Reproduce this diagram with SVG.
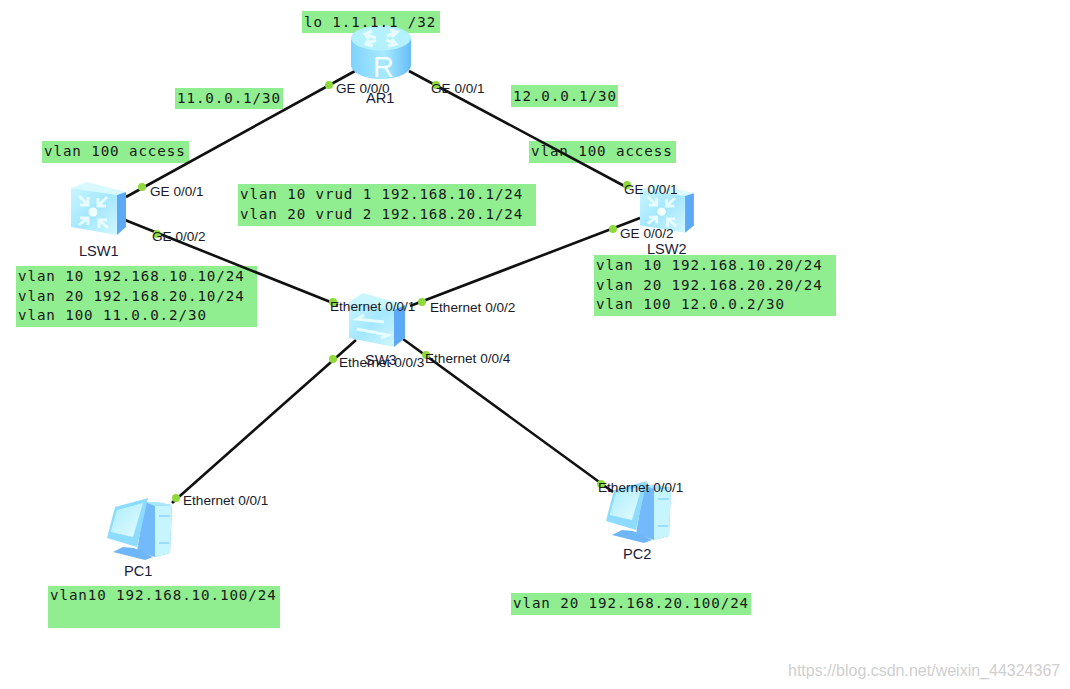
<svg xmlns="http://www.w3.org/2000/svg" width="1070" height="689" viewBox="0 0 1070 689">
<style>
.note{fill:#90ee90}
.m{font-family:"DejaVu Sans Mono","Liberation Mono",monospace;font-size:14.2px;letter-spacing:.9px;fill:#1a1a1a}
.p{font-family:"Liberation Sans",Arial,sans-serif;font-size:13.6px;fill:#1a1a2a}
.n{font-family:"Liberation Sans",Arial,sans-serif;font-size:14.6px;fill:#1a1a3a}
.w{font-family:"Liberation Sans",Arial,sans-serif;font-size:16px;fill:#cfcfcf}
.l{stroke:#111;stroke-width:2.6;fill:none}
.d{fill:#8fd93c}
.g{fill:none;stroke:#e6fcff;stroke-width:3}
</style>
<defs>
<linearGradient id="body" x1="0" y1="0" x2="1" y2="0"><stop offset="0" stop-color="#7fd2ff"/><stop offset=".55" stop-color="#a8eaff"/><stop offset="1" stop-color="#66bdf8"/></linearGradient>
<linearGradient id="face" x1="0" y1="0" x2="1" y2="1"><stop offset="0" stop-color="#c8f6ff"/><stop offset=".5" stop-color="#a4e7ff"/><stop offset="1" stop-color="#d2f7ff"/></linearGradient>
<linearGradient id="screen" x1="0" y1="0" x2="1" y2="1"><stop offset="0" stop-color="#a9ecff"/><stop offset="1" stop-color="#e6fcff"/></linearGradient>
<g id="l3">
<path d="M0 6 L16 0 L55 10 L46 13 Z" fill="#d8f9ff"/>
<path d="M0 6 L46 13 V53 L0 45 Z" fill="url(#face)"/>
<path d="M46 13 L55 10 V45 L46 53 Z" fill="#5da9f5"/>
<circle cx="22" cy="30" r="4.5" fill="#f2ffff"/>
<path class="g" d="M8 14 L17 23 M17 15 V23 H9 M36 15 L27 24 M27 16 V24 H35 M8 43 L17 36 M17 43 V36 H9 M37 46 L28 38 M28 46 V38 H36"/>
</g>
<g id="pc">
<path d="M38 5 L51 6 L65 8 L63 56 L48 60 L30 54 Z" fill="#72baf9"/>
<path d="M48 9 L65 8 L63 56 L48 60 Z" fill="#c6f4ff"/>
<path d="M38 5 L51 5 L65 8 L48 9 Z" fill="#a8e8ff"/>
<path d="M52 19 H63 M52 46 H62" stroke="#8dd4fb" stroke-width="1.4"/>
<path d="M16 50 L27 51 L46 60 L38 63 L6 55 Z" fill="#6fb6f8"/>
<path d="M8 10 L41 1 L30 50 L0 41 Z" fill="#8ddcff"/>
<path d="M10 13 L36 6 L26 40 L3.6 35 Z" fill="url(#screen)"/>
</g>
</defs>

<g id="notes">
<rect class="note" x="302" y="11" width="138" height="22"/>
<rect class="note" x="175" y="88" width="108" height="21"/>
<rect class="note" x="511" y="85" width="107" height="22"/>
<rect class="note" x="42" y="141" width="147" height="22"/>
<rect class="note" x="529" y="141" width="147" height="22"/>
<rect class="note" x="238" y="184" width="298" height="42"/>
<rect class="note" x="16" y="266" width="241" height="61"/>
<rect class="note" x="594" y="255" width="242" height="61"/>
<rect class="note" x="48" y="586" width="232" height="42"/>
<rect class="note" x="511" y="593" width="240" height="22"/>
</g>

<g id="connectors">
<path class="l" d="M126 197 L355 71"/>
<path class="l" d="M409 71 L628 188"/>
<path class="l" d="M125 220 L338 305"/>
<path class="l" d="M640 218 L410 306"/>
<path class="l" d="M356 340 L172 503"/>
<path class="l" d="M403 339 L613 492"/>
<circle class="d" cx="329" cy="85" r="4"/>
<circle class="d" cx="436" cy="85" r="4"/>
<circle class="d" cx="142" cy="187" r="4"/>
<circle class="d" cx="157" cy="234" r="4"/>
<circle class="d" cx="627" cy="185" r="4"/>
<circle class="d" cx="613" cy="229" r="4"/>
<circle class="d" cx="333" cy="302" r="4"/>
<circle class="d" cx="422" cy="302" r="4"/>
<circle class="d" cx="333" cy="359" r="4"/>
<circle class="d" cx="426" cy="355" r="4"/>
<circle class="d" cx="176" cy="498" r="4"/>
<circle class="d" cx="601" cy="484" r="4"/>
</g>

<g id="AR1">
<path d="M351 38 V65 C351 73 365 79 381 79 C397 79 411 73 411 65 V38 Z" fill="url(#body)"/>
<ellipse cx="381" cy="38" rx="30" ry="12.5" fill="#b4f1ff"/>
<path class="g" stroke-width="2.4" d="M365 34 L376 38 M372 31 L365 34 L369 39 M397 32 L387 36 M390 30 L397 32 L392 37 M366 44 L376 40 M369 39 L366 44 L373 46 M396 44 L386 40 M388 46 L396 44 L392 39"/>
<text x="383.500" y="76.500" text-anchor="middle" font-family="Liberation Sans,sans-serif" font-size="29" fill="#f4ffff">R</text>
<text class="n" x="366" y="103">AR1</text>
</g>
<g id="LSW1">
<use href="#l3" x="71" y="182"/>
<text class="n" x="79" y="256">LSW1</text>
</g>
<g id="LSW2">
<use href="#l3" transform="translate(640 184) scale(.98 .92)"/>
<text class="n" x="647" y="254">LSW2</text>
</g>
<g id="SW">
<path d="M349 302 L363 293 L405 305 L394 310 Z" fill="#c8f6ff"/>
<path d="M349 302 L394 310 V347 L349 338 Z" fill="url(#face)"/>
<path d="M394 310 L405 305 V338 L394 347 Z" fill="#5da9f5"/>
<path class="g" stroke-width="2.4" d="M384 322 L357 319 L364 315 M357 329 L388 335 L381 338"/>
<text class="n" x="365" y="365">SW3</text>
</g>
<g id="PC1">
<use href="#pc" x="107" y="497"/>
<text class="n" x="124" y="576">PC1</text>
</g>
<g id="PC2">
<use href="#pc" x="606" y="480"/>
<text class="n" x="623" y="559">PC2</text>
</g>

<g id="ports">
<text class="p" x="336" y="93">GE 0/0/0</text>
<text class="p" x="431" y="93">GE 0/0/1</text>
<text class="p" x="150" y="196">GE 0/0/1</text>
<text class="p" x="152" y="241">GE 0/0/2</text>
<text class="p" x="624" y="194">GE 0/0/1</text>
<text class="p" x="620" y="238">GE 0/0/2</text>
<text class="p" x="330" y="311">Ethernet 0/0/1</text>
<text class="p" x="430" y="312">Ethernet 0/0/2</text>
<text class="p" x="339" y="367">Ethernet 0/0/3</text>
<text class="p" x="425" y="363">Ethernet 0/0/4</text>
<text class="p" x="183" y="505">Ethernet 0/0/1</text>
<text class="p" x="598" y="492">Ethernet 0/0/1</text>
</g>

<g id="note-text">
<text class="m" x="304" y="27">lo 1.1.1.1 /32</text>
<text class="m" x="177" y="103">11.0.0.1/30</text>
<text class="m" x="513" y="101">12.0.0.1/30</text>
<text class="m" x="44" y="156">vlan 100 access</text>
<text class="m" x="531" y="156">vlan 100 access</text>
<text class="m" x="240" y="199">vlan 10 vrud 1 192.168.10.1/24</text>
<text class="m" x="240" y="219">vlan 20 vrud 2 192.168.20.1/24</text>
<text class="m" x="18" y="281">vlan 10 192.168.10.10/24</text>
<text class="m" x="18" y="301">vlan 20 192.168.20.10/24</text>
<text class="m" x="18" y="320">vlan 100 11.0.0.2/30</text>
<text class="m" x="596" y="270">vlan 10 192.168.10.20/24</text>
<text class="m" x="596" y="290">vlan 20 192.168.20.20/24</text>
<text class="m" x="596" y="309">vlan 100 12.0.0.2/30</text>
<text class="m" x="50" y="600">vlan10 192.168.10.100/24</text>
<text class="m" x="513" y="608">vlan 20 192.168.20.100/24</text>
</g>

<text class="w" x="788" y="676">https://blog.csdn.net/weixin_44324367</text>
</svg>
